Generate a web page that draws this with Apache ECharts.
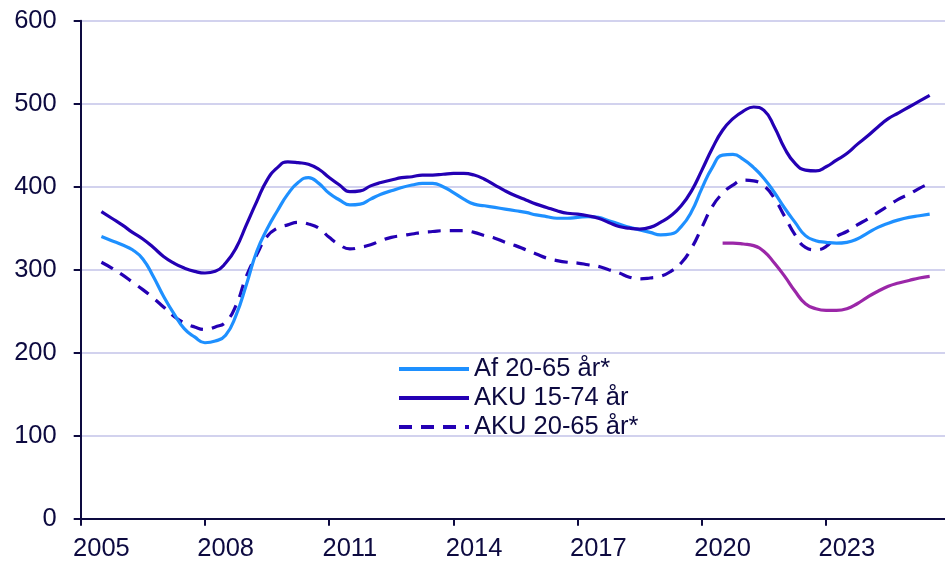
<!DOCTYPE html>
<html><head><meta charset="utf-8">
<script src="https://cdn.jsdelivr.net/npm/echarts@6/dist/echarts.min.js"></script>
<style>html,body{margin:0;padding:0;background:#fff}#c{width:945px;height:563px}</style>
</head><body><div id="c"></div>
<script>
// quarterly observation points (decimal years)
const years = [2005.5,2005.75,2006,2006.25,2006.5,2006.75,2007,2007.25,2007.5,2007.75,2008,2008.25,2008.5,2008.75,2009,2009.25,2009.5,2009.75,2010,2010.25,2010.5,2010.75,2011,2011.25,2011.5,2011.75,2012,2012.25,2012.5,2012.75,2013,2013.25,2013.5,2013.75,2014,2014.25,2014.5,2014.75,2015,2015.25,2015.5,2015.75,2016,2016.25,2016.5,2016.75,2017,2017.25,2017.5,2017.75,2018,2018.25,2018.5,2018.75,2019,2019.25,2019.5,2019.75,2020,2020.25,2020.5,2020.75,2021,2021.25,2021.5,2021.75,2022,2022.25,2022.5,2022.75,2023,2023.25,2023.5,2023.75,2024,2024.25,2024.5,2024.75,2025,2025.25,2025.5];
const af2065 = [340,335,330,324,313,292,268,247,229,219,212,214,221,245,282,322,349,371,391,405,411,404,392,384,378,379,385,391,395,399,402,404,404,400,393,385,379,377,375,373,371,369,366,364,362,362,363,364,363,359,355,351,348,345,342,343,352,370,398,423,438,439,433,423,410,393,374,357,341,335,333,332,333,337,344,351,356,360,363,365,367];
const aku1574 = [370,362,354,345,337,327,316,308,302,298,296,298,308,326,354,382,408,423,430,429,427,421,411,402,394,395,401,405,408,411,412,414,414,415,416,416,414,409,402,395,389,384,379,375,371,368,367,365,362,357,352,350,349,351,357,365,377,395,420,446,468,482,491,496,492,472,446,428,420,419,424,432,440,451,461,472,482,489,496,503,510];
const aku2065 = [309,302,294,285,276,266,255,244,236,231,228,231,237,257,292,318,340,350,354,357,355,350,339,330,325,327,330,335,339,341,343,345,346,347,347,347,345,341,338,333,329,324,319,314,311,309,308,306,304,300,296,291,289,290,292,298,308,326,351,376,392,402,408,407,401,386,364,342,327,324,328,340,346,354,361,369,377,385,391,398,404];
const newYears = [2020.5,2020.75,2021,2021.25,2021.5,2021.75,2022,2022.25,2022.5,2022.75,2023,2023.25,2023.5,2023.75,2024,2024.25,2024.5,2024.75,2025,2025.25,2025.5];
const newSeries = [332,332,331,329,322,308,292,274,259,253,251,251,253,259,267,274,280,284,287,290,292];
const names = ['Af 20-65 år*','AKU 15-74 år','AKU 20-65 år*'];

const pair = (xs, ys) => xs.map((x, i) => [x, ys[i]]);
const axisCol = '#0d0a40';
const font = 'Liberation Sans';
const chart = echarts.init(document.getElementById('c'));
const lineBase = {type:'line', showSymbol:false, symbol:'none', smooth:0.5, animation:false};
chart.setOption({
  animation:false,
  grid:{left:80.7, top:20.7, right:0, bottom:44.3, containLabel:false},
  xAxis:{type:'value', min:2005, max:2025.87, interval:3,
    axisLine:{lineStyle:{color:axisCol, width:2}},
    axisTick:{length:7, lineStyle:{color:axisCol, width:2}},
    axisLabel:{color:axisCol, fontSize:25.5, fontFamily:font, margin:17, padding:[0,0,0,41.4], showMaxLabel:false, formatter:v=>String(v)},
    splitLine:{show:false}},
  yAxis:{type:'value', min:0, max:600, interval:100,
    axisLine:{show:true, lineStyle:{color:axisCol, width:2}},
    axisTick:{show:true, length:7, lineStyle:{color:axisCol, width:2}},
    axisLabel:{color:axisCol, fontSize:25.5, fontFamily:font, margin:24},
    splitLine:{lineStyle:{color:'#d2d2ee', width:2}}},
  legend:{data:names, orient:'vertical', left:397, top:356, padding:0, itemWidth:70, itemHeight:14, itemGap:3, itemTextGap:8,
    itemStyle:{opacity:0}, lineStyle:{width:4},
    textStyle:{color:axisCol, fontSize:25.5, fontFamily:font, lineHeight:23}},
  series:[
    Object.assign({}, lineBase, {name:names[0], data:pair(years, af2065), color:'#1e90ff', lineStyle:{width:3.2, color:'#1e90ff'}, z:3}),
    Object.assign({}, lineBase, {name:names[1], data:pair(years, aku1574), color:'#2400b4', lineStyle:{width:3.2, color:'#2400b4'}, z:4}),
    Object.assign({}, lineBase, {name:names[2], data:pair(years, aku2065), color:'#2400b4', lineStyle:{width:3.2, color:'#2400b4', type:[13,9]}, z:2}),
    Object.assign({}, lineBase, {name:'AF ny', data:pair(newYears, newSeries), color:'#9b27a8', lineStyle:{width:3.2, color:'#9b27a8'}, z:2})
  ]
});
</script></body></html>
